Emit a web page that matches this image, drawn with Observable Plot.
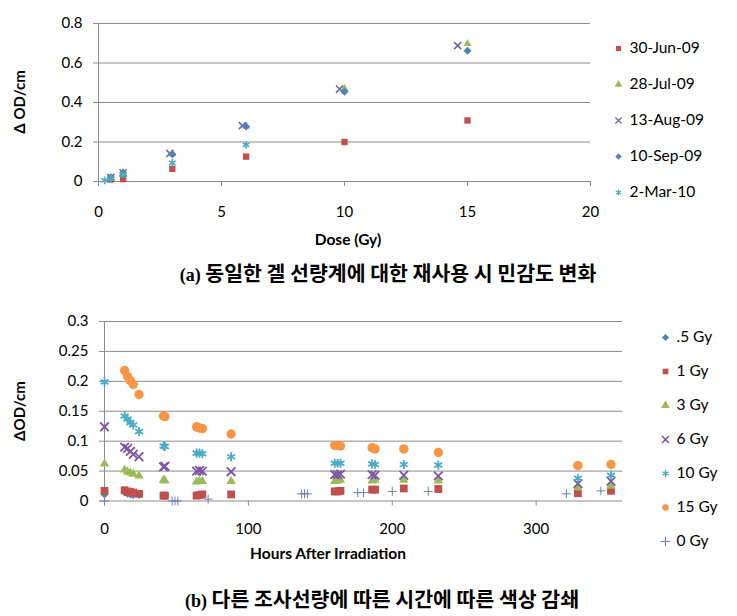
<!DOCTYPE html>
<html><head><meta charset="utf-8">
<script src="https://cdn.jsdelivr.net/npm/d3@7"></script>
<script src="https://cdn.jsdelivr.net/npm/@observablehq/plot@0.6"></script>
<style>
body{margin:0;background:#fff;}
#wrap{position:relative;width:737px;height:616px;overflow:hidden;font-family:Lato,"Noto Sans",sans-serif;color:#000;background:#fff;}
.ytitle{position:absolute;font-weight:bold;font-size:15px;white-space:nowrap;transform:translate(-50%,-50%) rotate(-90deg);}
.xtitle{position:absolute;font-weight:bold;font-size:15.5px;white-space:nowrap;transform:translate(-50%,-50%);}
.cap{position:absolute;white-space:nowrap;transform:translate(-50%,-50%);font-family:"Noto Sans CJK KR",sans-serif;font-weight:bold;font-size:20.5px;letter-spacing:0;}
.cap .p{font-family:"Liberation Serif",serif;font-weight:bold;font-size:18px;}
</style>
</head><body>
<div id="wrap"></div>
<script>
// ---------- Chart (a): sensitivity on reuse ----------
const topSeries = ["30-Jun-09", "28-Jul-09", "13-Aug-09", "10-Sep-09", "2-Mar-10"];
const topSymbols = ["square", "triangle", "times", "diamond2", "asterisk"];
const topColors = ["#C0504D", "#9BBB59", "#6f6a99", "#4F81BD", "#4BACC6"];
const doseJun = [0.5, 1, 3, 6, 10, 15];
const odJun   = [0.010, 0.012, 0.064, 0.126, 0.200, 0.309];
const doseJul = [0.5, 1, 3, 6, 10, 15];
const odJul   = [0.020, 0.043, 0.140, 0.280, 0.470, 0.698];
const doseAug = [0.5, 1, 2.9, 5.85, 9.8, 14.6];
const odAug   = [0.021, 0.044, 0.142, 0.283, 0.468, 0.688];
const doseSep = [0.5, 1, 3, 6, 10, 15];
const odSep   = [0.022, 0.046, 0.138, 0.279, 0.455, 0.662];
const doseMar = [0.25, 0.5, 1, 3, 6];
const odMar   = [0.006, 0.015, 0.034, 0.094, 0.185];
const doseTicks = [0, 5, 10, 15, 20];
const odTicksTop = [0, 0.2, 0.4, 0.6, 0.8];

// ---------- Chart (b): fading over time ----------
const botSeries = [".5 Gy", "1 Gy", "3 Gy", "6 Gy", "10 Gy", "15 Gy", "0 Gy"];
const botSymbols = ["diamond2", "square", "triangle", "times", "asterisk", "circle", "plus"];
const botColors = ["#4F81BD", "#C0504D", "#9BBB59", "#7d55a6", "#4BACC6", "#F79646", "#6d83b3"];
const hoursStd = [0, 14, 16, 18, 20, 24, 41, 42, 64, 66, 68, 88, 160, 162, 164, 186, 188, 208, 232, 329, 352];
const hoursHalf = [0, 14, 16, 18, 20, 24];
const odHalf = [0.011, 0.014, 0.012, 0.011, 0.010, 0.010];
const od1  = [0.017, 0.018, 0.016, 0.015, 0.014, 0.012, 0.009, 0.009, 0.009, 0.010, 0.011, 0.011, 0.016, 0.016, 0.017, 0.019, 0.019, 0.021, 0.020, 0.013, 0.017];
const od3  = [0.062, 0.052, 0.049, 0.047, 0.045, 0.042, 0.035, 0.034, 0.032, 0.033, 0.033, 0.033, 0.033, 0.034, 0.035, 0.034, 0.035, 0.035, 0.034, 0.022, 0.025];
const od6  = [0.124, 0.090, 0.088, 0.083, 0.078, 0.074, 0.057, 0.058, 0.050, 0.051, 0.050, 0.049, 0.044, 0.044, 0.045, 0.044, 0.043, 0.043, 0.042, 0.029, 0.033];
const od10 = [0.199, 0.142, 0.137, 0.131, 0.127, 0.116, 0.092, 0.091, 0.080, 0.080, 0.079, 0.074, 0.063, 0.063, 0.063, 0.062, 0.061, 0.061, 0.060, 0.038, 0.043];
const hours15 = [14, 16, 18, 20, 24, 41, 42, 64, 66, 68, 88, 160, 162, 164, 186, 188, 208, 232, 329, 352];
const od15 = [0.218, 0.208, 0.201, 0.195, 0.178, 0.142, 0.141, 0.124, 0.122, 0.121, 0.112, 0.093, 0.093, 0.092, 0.089, 0.087, 0.087, 0.081, 0.059, 0.061];
const hours0 = [0, 47, 49, 51, 72, 137, 139, 141, 176, 180, 200, 225, 321, 345];
const od0    = [0, 0, 0, 0, 0.003, 0.012, 0.012, 0.012, 0.014, 0.014, 0.016, 0.016, 0.012, 0.017];
const hourTicks = [0, 100, 200, 300];
const odTicksBot = [0, 0.05, 0.1, 0.15, 0.2, 0.25, 0.3];

const zip = (xs, ys) => xs.map((x, i) => ({x, y: ys[i]}));
const strokeSym = new Set(["times", "asterisk", "plus"]);
function dotStyle(sym, color, r, sw) {
  return strokeSym.has(sym)
    ? {symbol: sym, stroke: color, fill: "none", strokeWidth: sw, r}
    : {symbol: sym, fill: color, stroke: "none", r};
}

const grey = "#8c8c8c";
const wrap = document.getElementById("wrap");
function place(el, left, top) {
  el.style.position = "absolute"; el.style.left = left + "px"; el.style.top = top + "px";
  wrap.appendChild(el);
}
function addDiv(cls, html, left, top) {
  const d = document.createElement("div");
  d.className = cls; d.innerHTML = html;
  d.style.left = left + "px"; d.style.top = top + "px";
  wrap.appendChild(d);
}
const fontStyle = {fontFamily: "Lato, 'Noto Sans', sans-serif", fontSize: "15px", color: "#000", background: "transparent", overflow: "visible"};

// ---------- top chart ----------
const topData = [zip(doseJun, odJun), zip(doseJul, odJul), zip(doseAug, odAug), zip(doseSep, odSep), zip(doseMar, odMar)];
const topR = [3.6, 3.0, 3.3, 3.6, 3.6];
const topPlot = Plot.plot({
  width: 600, height: 250,
  marginLeft: 98, marginRight: 10, marginTop: 23, marginBottom: 69,
  style: fontStyle,
  x: {domain: [0, 20], label: null},
  y: {domain: [0, 0.8], label: null},
  marks: [
    Plot.gridY(odTicksTop, {stroke: grey, strokeOpacity: 1, strokeWidth: 1}),
    Plot.ruleX([0], {stroke: grey}),
    Plot.axisY(odTicksTop, {tickSize: 5, tickPadding: 11, stroke: grey, tickFormat: d => String(+d.toFixed(1)), fontSize: 15, label: null}),
    Plot.axisX(doseTicks, {tickSize: 5, tickPadding: 20, stroke: grey, tickFormat: d => String(d), fontSize: 15, label: null}),
    ...topData.map((data, i) => Plot.dot(data, {x: "x", y: "y", ...dotStyle(topSymbols[i], topColors[i], topR[i], 1.6)}))
  ]
});
place(topPlot, 0, 0);

const topLegend = Plot.plot({
  width: 137, height: 230, marginLeft: 28, marginRight: 0, marginTop: 47, marginBottom: 37,
  style: fontStyle,
  y: {type: "point", domain: topSeries, axis: null, padding: 0},
  marks: topSeries.flatMap((s, i) => [
    Plot.dot([s], {y: d => d, frameAnchor: "left", ...dotStyle(topSymbols[i], topColors[i], 2.9, 1.3)}),
    Plot.text([s], {y: d => d, frameAnchor: "left", dx: 11, text: d => d, fontSize: 15.5, fill: "#000"})
  ])
});
place(topLegend, 590, 0);

addDiv("ytitle", "&Delta; OD/cm", 19, 102);
addDiv("xtitle", "Dose (Gy)", 348, 239);
addDiv("cap", '<span class="p">(a)</span> 동일한 겔 선량계에 대한 재사용 시 민감도 변화', 388, 272);

// ---------- bottom chart ----------
const botData = [zip(hoursHalf, odHalf), zip(hoursStd, od1), zip(hoursStd, od3), zip(hoursStd, od6), zip(hoursStd, od10), zip(hours15, od15), zip(hours0, od0)];
const botR = [3.6, 4.4, 3.5, 4.0, 4.3, 4.7, 3.0];
const botPlot = Plot.plot({
  width: 640, height: 245,
  marginLeft: 104, marginRight: 18, marginTop: 21, marginBottom: 44.5,
  style: fontStyle,
  x: {domain: [0, 360], label: null},
  y: {domain: [0, 0.3], label: null},
  marks: [
    Plot.gridY(odTicksBot, {stroke: grey, strokeOpacity: 1, strokeWidth: 1}),
    Plot.ruleX([0], {stroke: grey}),
    Plot.axisY(odTicksBot, {tickSize: 5, tickPadding: 11, stroke: grey, tickFormat: d => String(+d.toFixed(2)), fontSize: 15, label: null}),
    Plot.axisX(hourTicks, {tickSize: 5, tickPadding: 17, stroke: grey, tickFormat: d => String(d), fontSize: 15, label: null}),
    ...botData.map((data, i) => Plot.dot(data, {x: "x", y: "y", ...dotStyle(botSymbols[i], botColors[i], botR[i], i === 6 ? 1 : 1.8)}))
  ]
});
place(botPlot, 0, 300);

const botLegend = Plot.plot({
  width: 100, height: 270, marginLeft: 18, marginRight: 0, marginTop: 35, marginBottom: 27,
  style: fontStyle,
  y: {type: "point", domain: botSeries, axis: null, padding: 0},
  marks: botSeries.flatMap((s, i) => [
    Plot.dot([s], {y: d => d, frameAnchor: "left", ...dotStyle(botSymbols[i], botColors[i], 3.2, i === 6 ? 1 : 1.5)}),
    Plot.text([s], {y: d => d, frameAnchor: "left", dx: 11, text: d => d, fontSize: 15.5, fill: "#000"})
  ])
});
place(botLegend, 647, 300);

addDiv("ytitle", "&Delta;OD/cm", 19, 411);
addDiv("xtitle", "Hours After Irradiation", 328, 553);
addDiv("cap", '<span class="p">(b)</span> 다른 조사선량에 따른 시간에 따른 색상 감쇄', 382, 598);
</script>
</body></html>
